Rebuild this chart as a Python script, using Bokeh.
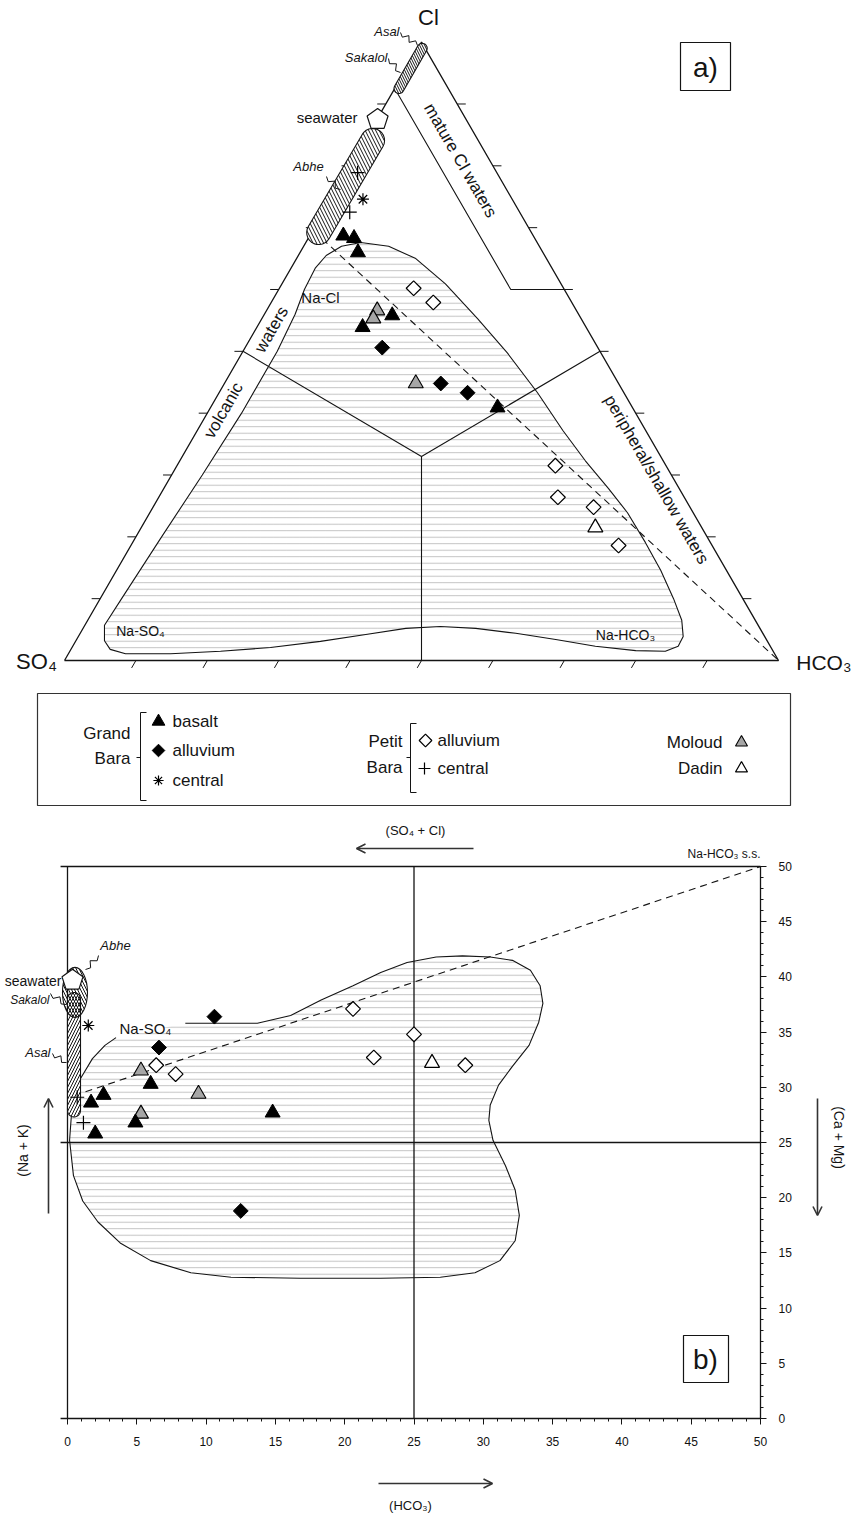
import math
import numpy as np
from bokeh.plotting import figure
from bokeh.models import Range1d, LinearAxis, SingleIntervalTicker, Arrow, OpenHead
from bokeh.layouts import column
from bokeh.embed import file_html
from bokeh.resources import INLINE
from bokeh.core.properties import value

SQ3 = math.sqrt(3) / 2.0

# ---------------- (a) ternary data: Cl % and HCO3 % (SO4 = remainder) ----------------
gb_basalt_cl = [68.7, 68.3, 66.0, 53.9, 55.8, 40.9]
gb_basalt_hco3 = [4.7, 6.4, 8.1, 14.8, 18.0, 40.2]
gb_alluv_cl = [50.6, 44.8, 43.3]
gb_alluv_hco3 = [19.2, 30.3, 34.8]
gb_central_cl = [74.6]
gb_central_hco3 = [4.5]
pb_alluv_cl = [60.2, 57.9, 31.5, 26.4, 24.8, 18.6]
pb_alluv_hco3 = [18.8, 22.7, 53.0, 55.9, 61.7, 68.3]
pb_central_cl = [78.9, 72.5]
pb_central_hco3 = [1.6, 3.7]
moloud_cl = [56.6, 55.3, 44.8]
moloud_hco3 = [15.5, 15.6, 26.8]
dadin_cl = [21.5]
dadin_hco3 = [63.6]
seawater_cl = [87.5]
seawater_hco3 = [0.1]
abhe_cl = [69.2, 84.1]
abhe_hco3 = [1.0, 1.1]
asal_cl = [92.5, 99.0]
asal_hco3 = [0.6, 0.6]
mix_cl = [68.2, 0.0]
mix_hco3 = [2.0, 100.0]
tern_ticks = [10, 20, 30, 40, 50, 60, 70, 80, 90]
mature_so4 = 7.5
mature_cl_limit = 60.0
junction_cl = 33.0

blob_cl = [67.6, 67.0, 65.0, 60.9, 55.3, 49.7, 43.3, 37.2, 32.3, 27.8,
           23.9, 19.1, 14.6, 10.0, 6.5, 3.9, 2.3, 1.5, 1.6, 2.3,
           3.4, 4.4, 5.2, 5.5, 5.2, 4.2, 3.1, 2.1, 1.5, 1.1,
           1.1, 1.8, 3.2, 5.7, 10, 20, 30, 40, 50, 56,
           60, 63.5, 65.5, 67.0]
blob_hco3 = [7.7, 11.9, 16.7, 22.9, 30.2, 37.2, 44.6, 51.2, 56.8, 62.3,
             66.9, 71.8, 76.2, 80.3, 83.2, 84.7, 84.8, 83.4, 79.2, 73.2,
             67.1, 61.0, 55.0, 49.9, 45.2, 40.1, 34.3, 27.8, 21.1, 14.3,
             8.0, 5.5, 4.0, 2.75, 3.0, 3.6, 4.3, 4.8, 4.8, 4.3,
             3.6, 3.4, 3.9, 5.3]

# ---------------- (b) square diagram data: x = HCO3, y = Na+K ----------------
b_gb_basalt_x = [1.7, 2.6, 2.0, 6.0, 4.9, 14.8]
b_gb_basalt_y = [28.6, 29.3, 25.8, 30.3, 26.8, 27.7]
b_gb_alluv_x = [10.6, 6.6, 12.5]
b_gb_alluv_y = [36.4, 33.6, 18.8]
b_gb_central_x = [1.5]
b_gb_central_y = [35.6]
b_pb_alluv_x = [6.4, 7.8, 20.6, 25.0, 22.1, 28.7]
b_pb_alluv_y = [32.0, 31.2, 37.1, 34.8, 32.7, 32.0]
b_pb_central_x = [0.7, 1.15]
b_pb_central_y = [29.1, 26.8]
b_moloud_x = [5.3, 9.45, 5.3]
b_moloud_y = [31.5, 29.4, 27.6]
b_dadin_x = [26.3]
b_dadin_y = [32.2]
b_seawater_x = [0.36]
b_seawater_y = [39.7]
b_asal_x = [0.47, 0.47]
b_asal_y = [27.9, 38.0]
b_abhe_x = [0.54]
b_abhe_y = [38.6]
b_mix_x = [1.3, 50.0]
b_mix_y = [29.6, 50.0]
b_blob_x = [8.5, 13.7, 16.1, 18.3, 20.6, 22.6, 24.5, 26.6, 28.5, 30.5,
            32.1, 33.4, 34.1, 34.3, 34.0, 33.3, 32.1, 31.1, 30.5, 30.4,
            30.7, 31.6, 32.3, 32.6, 32.3, 31.2, 29.4, 26.9, 22.6, 16.8,
            11.8, 8.9, 6.0, 3.8, 2.2, 1.1, 0.43, 0.15, 0.36, 0.94,
            1.8, 2.7, 3.5]
b_blob_y = [35.8, 35.8, 36.5, 37.9, 39.2, 40.4, 41.3, 41.8, 41.9, 41.8,
            41.5, 40.6, 39.2, 37.6, 35.9, 33.8, 31.9, 30.2, 28.4, 27.0,
            25.2, 22.9, 20.7, 18.4, 16.1, 14.3, 13.2, 12.8, 12.7, 12.7,
            12.8, 13.2, 14.3, 15.9, 17.8, 19.7, 22.0, 25.2, 28.8, 30.8,
            32.6, 33.8, 34.5]

# ---------------- layout constants (page pixels; page origin = figure origin) ----------------
W = 852
H1 = 815
H2 = 711
TS = 7.14           # px per ternary unit (side = 100)
TX0, TY0 = 64, 660  # page px of the SO4 corner
BSX, BSY = 13.86, 11.04
BX0, BY0 = 67, 1418
BTOP = H1

FONT = "Liberation Sans"
INK = "#141414"


def tern_xy(cl, hco3):
    cl = np.asarray(cl, dtype=float)
    h = np.asarray(hco3, dtype=float)
    return [float(v) for v in (h + cl / 2.0)], [float(v) for v in (cl * SQ3)]


def T(px, py):
    return (px - TX0) / TS, (TY0 - py) / TS


def B(px, py):
    return (px - BX0) / BSX, (BY0 - py) / BSY


def txt(fig, conv, px, py, s, size, align="center", font=FONT, style="normal",
        angle=0.0, color=INK):
    x, y = conv(px, py)
    fig.text([x], [y], text=[s], text_font=value(font), text_font_size=f"{size}px",
             text_font_style=style, text_align=align, text_baseline="middle",
             angle=angle, text_color=color)


def zigzag(fig, conv, x0, y0, x1, y1, n=5, amp=2.6):
    dx, dy = x1 - x0, y1 - y0
    ln = math.hypot(dx, dy)
    nx, ny = -dy / ln, dx / ln
    xs, ys = [], []
    for i in range(n + 1):
        t = i / n
        off = 0 if i in (0, n) else (amp if i % 2 else -amp)
        px, py = x0 + dx * t + nx * off, y0 + dy * t + ny * off
        cx, cy = conv(px, py)
        xs.append(cx)
        ys.append(cy)
    fig.line(xs, ys, line_color=INK, line_width=1)


def capsule(x0, y0, x1, y1, r, sx, sy, n=14):
    X0, Y0, X1, Y1 = x0 * sx, y0 * sy, x1 * sx, y1 * sy
    ang = math.atan2(Y1 - Y0, X1 - X0)
    pts = []
    for t in np.linspace(-math.pi / 2, math.pi / 2, n):
        pts.append((X1 + r * math.cos(ang + t), Y1 + r * math.sin(ang + t)))
    for t in np.linspace(math.pi / 2, 3 * math.pi / 2, n):
        pts.append((X0 + r * math.cos(ang + t), Y0 + r * math.sin(ang + t)))
    return [p[0] / sx for p in pts], [p[1] / sy for p in pts]


def pentagon(x, y, r, sx, sy):
    xs, ys = [], []
    for k in range(5):
        a = math.pi / 2 + k * 2 * math.pi / 5
        xs.append(x + r * math.cos(a) / sx)
        ys.append(y + r * math.sin(a) / sy)
    return xs, ys


def markers(fig, x, y, kind, size_scale=1.0):
    s = size_scale
    if kind == "basalt":
        fig.scatter(x, y, marker="triangle", size=15 * s, fill_color="black", line_color="black")
    elif kind == "gb_alluv":
        fig.scatter(x, y, marker="square", angle=math.pi / 4, size=10.5 * s,
                    fill_color="black", line_color="black")
    elif kind == "gb_central":
        fig.scatter(x, y, marker="asterisk", size=12 * s, line_color="black", line_width=1.2)
    elif kind == "pb_alluv":
        fig.scatter(x, y, marker="square", angle=math.pi / 4, size=10.5 * s,
                    fill_color="white", line_color="black", line_width=1.2)
    elif kind == "pb_central":
        fig.scatter(x, y, marker="cross", size=14 * s, line_color="black", line_width=1.2)
    elif kind == "moloud":
        fig.scatter(x, y, marker="triangle", size=15 * s, fill_color="#a6a6a6",
                    line_color="black", line_width=1.1)
    elif kind == "dadin":
        fig.scatter(x, y, marker="triangle", size=15 * s, fill_color="white",
                    line_color="black", line_width=1.2)


DOTS = dict(fill_alpha=0, hatch_pattern="horizontal_line", hatch_scale=6.5,
            hatch_color="#b4b4b4", hatch_weight=0.8, line_color=None)

# =============================== TOP: ternary ===============================
top = figure(width=W, height=H1,
             x_range=Range1d((0 - TX0) / TS, (W - TX0) / TS),
             y_range=Range1d((TY0 - H1) / TS, TY0 / TS),
             output_backend="svg", toolbar_location=None,
             x_axis_type=None, y_axis_type=None, min_border=0)
top.outline_line_color = None
top.background_fill_color = "white"

# dotted field
bx, by = tern_xy(blob_cl, blob_hco3)
top.patch(bx, by, **DOTS)
top.patch(bx, by, fill_alpha=0, line_color=INK, line_width=1.1)

# triangle outline
cx, cy = tern_xy([0, 0, 100, 0], [0, 100, 0, 0])
top.line(cx, cy, line_color=INK, line_width=1.3)

# ticks
L = 1.2
txs, tys = [], []
for k in tern_ticks:
    bxx, byy = tern_xy([0], [k])
    txs.append([bxx[0], bxx[0] - L * 0.5]); tys.append([byy[0], byy[0] - L * SQ3])
    lx, ly = tern_xy([k], [0])
    txs.append([lx[0], lx[0] - L]); tys.append([ly[0], ly[0]])
    rx, ry = tern_xy([k], [100 - k])
    txs.append([rx[0], rx[0] + L]); tys.append([ry[0], ry[0]])
top.multi_line(txs, tys, line_color=INK, line_width=1)

# field boundaries
jh = (100 - junction_cl) / 2
vx, vy = tern_xy([50, junction_cl, 50], [0, jh, 50])
top.line(vx, vy, line_color=INK, line_width=1.1)
sx_, sy_ = tern_xy([junction_cl, 0], [jh, 50])
top.line(sx_, sy_, line_color=INK, line_width=1.1)
mx, my = tern_xy([100 - mature_so4, mature_cl_limit, mature_cl_limit],
                 [0, 100 - mature_cl_limit - mature_so4, 100 - mature_cl_limit])
top.line(mx, my, line_color=INK, line_width=1.1)

# mixing line
dx_, dy_ = tern_xy(mix_cl, mix_hco3)
top.line(dx_, dy_, line_color=INK, line_width=1.1, line_dash="7 5")

# hatched lake fields
ax, ay = tern_xy(abhe_cl, abhe_hco3)
cxs, cys = capsule(ax[0], ay[0], ax[1], ay[1], 12, TS, TS)
top.patch(cxs, cys, fill_color="white", hatch_pattern="left_diagonal_line", hatch_scale=7,
          hatch_color=INK, hatch_weight=1, line_color=INK, line_width=1.1)
sx2, sy2 = tern_xy(asal_cl, asal_hco3)
cxs, cys = capsule(sx2[0], sy2[0], sx2[1], sy2[1], 5, TS, TS)
top.patch(cxs, cys, fill_color="white", hatch_pattern="left_diagonal_line", hatch_scale=5,
          hatch_color=INK, hatch_weight=1, line_color=INK, line_width=1.1)
swx, swy = tern_xy(seawater_cl, seawater_hco3)
px_, py_ = pentagon(swx[0], swy[0], 11, TS, TS)
top.patch(px_, py_, fill_color="white", line_color=INK, line_width=1.2)

# samples
for cl, h, kind in [(pb_alluv_cl, pb_alluv_hco3, "pb_alluv"), (dadin_cl, dadin_hco3, "dadin"),
                    (moloud_cl, moloud_hco3, "moloud"), (gb_alluv_cl, gb_alluv_hco3, "gb_alluv"),
                    (gb_basalt_cl, gb_basalt_hco3, "basalt"),
                    (gb_central_cl, gb_central_hco3, "gb_central"),
                    (pb_central_cl, pb_central_hco3, "pb_central")]:
    xx, yy = tern_xy(cl, h)
    markers(top, xx, yy, kind)

# labels
txt(top, T, 428, 17, "Cl", 22)
txt(top, T, 36, 661, "SO₄", 22)
txt(top, T, 851, 662, "HCO₃", 21, align="right")
x0_, y0_ = T(680, 42); x1_, y1_ = T(730, 90)
top.quad(left=[x0_], right=[x1_], top=[y0_], bottom=[y1_], fill_color="white",
         line_color=INK, line_width=1.2)
txt(top, T, 705, 67, "a)", 28)
txt(top, T, 460, 160, "mature Cl waters", 17, angle=-math.pi / 3)
txt(top, T, 656, 479, "peripheral/shallow waters", 17, angle=-math.pi / 3)
txt(top, T, 223, 410, "volcanic", 17, angle=math.pi / 3)
txt(top, T, 271, 329, "waters", 17, angle=math.pi / 3)
txt(top, T, 320, 297, "Na-Cl", 15)
txt(top, T, 140, 630, "Na-SO₄", 14)
txt(top, T, 625, 634, "Na-HCO₃", 14)
txt(top, T, 357, 117, "seawater", 15, align="right")
txt(top, T, 399, 31, "Asal", 13, align="right", style="italic")
txt(top, T, 387, 57, "Sakalol", 13, align="right", style="italic")
txt(top, T, 308, 166, "Abhe", 13, style="italic")
zigzag(top, T, 400, 32, 417, 45)
zigzag(top, T, 388, 58, 400, 72, n=4)
zigzag(top, T, 326, 176, 340, 189, n=4)

# legend
lx0, ly0 = T(37, 693); lx1, ly1 = T(790, 805)
top.quad(left=[lx0], right=[lx1], top=[ly0], bottom=[ly1], fill_alpha=0,
         line_color="#333333", line_width=1.2)
txt(top, T, 130, 733, "Grand", 17, align="right")
txt(top, T, 130, 758, "Bara", 17, align="right")
bxs = [[140, 146], [140, 140], [140, 146], [136, 140]]
bys = [[712, 712], [712, 800], [800, 800], [757, 757]]
pxs = [[410, 416], [410, 410], [410, 416], [406, 410]]
pys = [[723, 723], [723, 792], [792, 792], [757, 757]]
for xsl, ysl in [(bxs, bys), (pxs, pys)]:
    mlx, mly = [], []
    for a_, b_ in zip(xsl, ysl):
        pa = T(a_[0], b_[0]); pb = T(a_[1], b_[1])
        mlx.append([pa[0], pb[0]]); mly.append([pa[1], pb[1]])
    top.multi_line(mlx, mly, line_color=INK, line_width=1)
for (mpx, mpy, kind, label) in [(158, 721, "basalt", "basalt"), (158, 750, "gb_alluv", "alluvium"),
                                (158, 780, "gb_central", "central")]:
    mx_, my_ = T(mpx, mpy)
    markers(top, [mx_], [my_], kind, 0.85)
    txt(top, T, 172, mpy, label, 17, align="left")
txt(top, T, 402, 741, "Petit", 17, align="right")
txt(top, T, 402, 767, "Bara", 17, align="right")
for (mpx, mpy, kind, label) in [(425, 740, "pb_alluv", "alluvium"), (424, 768, "pb_central", "central")]:
    mx_, my_ = T(mpx, mpy)
    markers(top, [mx_], [my_], kind, 0.85)
    txt(top, T, 437, mpy, label, 17, align="left")
for (mpy, kind, label) in [(742, "moloud", "Moloud"), (768, "dadin", "Dadin")]:
    txt(top, T, 722, mpy, label, 17, align="right")
    mx_, my_ = T(741, mpy)
    markers(top, [mx_], [my_], kind, 0.8)

# =============================== BOTTOM: square diagram ===============================
bot = figure(width=W, height=H2,
             x_range=Range1d((0 - BX0) / BSX, (W - BX0) / BSX),
             y_range=Range1d((BY0 - (BTOP + H2)) / BSY, (BY0 - BTOP) / BSY),
             output_backend="svg", toolbar_location=None,
             x_axis_type=None, y_axis_type=None, min_border=0)
bot.outline_line_color = None

xax = LinearAxis(ticker=SingleIntervalTicker(interval=5, num_minor_ticks=5),
                 fixed_location=0, bounds=(0, 50))
yax = LinearAxis(ticker=SingleIntervalTicker(interval=5, num_minor_ticks=5),
                 fixed_location=50, bounds=(0, 50))
for ax_ in (xax, yax):
    ax_.axis_line_color = INK
    ax_.axis_line_width = 1.3
    ax_.major_tick_in = 0
    ax_.major_tick_out = 6
    ax_.minor_tick_in = 0
    ax_.minor_tick_out = 3
    ax_.major_tick_line_color = INK
    ax_.minor_tick_line_color = INK
    ax_.major_label_text_font = FONT
    ax_.major_label_text_font_size = "12px"
    ax_.major_label_text_color = "#111111"
xax.major_label_standoff = 12
yax.major_label_standoff = 12
bot.add_layout(xax, "below")
bot.add_layout(yax, "right")

# dotted field
bot.patch(b_blob_x, b_blob_y, **DOTS)
bot.line(b_blob_x, b_blob_y, line_color=INK, line_width=1.1)

# frame and 25-lines
fr_x = [[-0.5, 50], [0, 0], [25, 25], [-0.5, 50], [-0.5, 0]]
fr_y = [[50, 50], [0, 50], [0, 50], [25, 25], [0, 0]]
bot.multi_line(fr_x, fr_y, line_color=INK, line_width=1.3)

bot.line(b_mix_x, b_mix_y, line_color=INK, line_width=1.1, line_dash="7 5")

# lakes
cxs, cys = capsule(b_asal_x[0], b_asal_y[0], b_asal_x[1], b_asal_y[1], 6.5, BSX, BSY)
bot.patch(cxs, cys, fill_color="white", hatch_pattern="right_diagonal_line", hatch_scale=6,
          hatch_color=INK, hatch_weight=1, line_color=INK, line_width=1.1)
bot.ellipse(b_abhe_x, b_abhe_y, width=25 / BSX, height=50 / BSY, fill_alpha=0,
            hatch_pattern="left_diagonal_line", hatch_scale=6, hatch_color=INK,
            hatch_weight=1, line_color=INK, line_width=1.1)
px_, py_ = pentagon(b_seawater_x[0], b_seawater_y[0], 11, BSX, BSY)
bot.patch(px_, py_, fill_color="white", line_color=INK, line_width=1.2)

for xx, yy, kind in [(b_pb_alluv_x, b_pb_alluv_y, "pb_alluv"), (b_dadin_x, b_dadin_y, "dadin"),
                     (b_moloud_x, b_moloud_y, "moloud"), (b_gb_alluv_x, b_gb_alluv_y, "gb_alluv"),
                     (b_gb_basalt_x, b_gb_basalt_y, "basalt"),
                     (b_gb_central_x, b_gb_central_y, "gb_central"),
                     (b_pb_central_x, b_pb_central_y, "pb_central")]:
    markers(bot, xx, yy, kind)

# labels
txt(bot, B, 415, 830, "(SO₄ + Cl)", 13)
txt(bot, B, 760, 853, "Na-HCO₃ s.s.", 12, align="right")
txt(bot, B, 115, 945, "Abhe", 13, style="italic")
txt(bot, B, 61, 980, "seawater", 14, align="right")
txt(bot, B, 49, 999, "Sakalol", 12, align="right", style="italic")
txt(bot, B, 50, 1052, "Asal", 13, align="right", style="italic")
txt(bot, B, 145, 1028, "Na-SO₄", 15)
zigzag(bot, B, 85, 969, 98, 955, n=4)
zigzag(bot, B, 50, 993, 66, 1004, n=4)
zigzag(bot, B, 52, 1053, 66, 1062, n=4)
bx0_, by0_ = B(683, 1335); bx1_, by1_ = B(728, 1382)
bot.quad(left=[bx0_], right=[bx1_], top=[by0_], bottom=[by1_], fill_color="white",
         line_color=INK, line_width=1.2)
txt(bot, B, 705, 1359, "b)", 28)
txt(bot, B, 410, 1505, "(HCO₃)", 13)
txt(bot, B, 22, 1150, "(Na + K)", 14, angle=math.pi / 2)
txt(bot, B, 838, 1137, "(Ca + Mg)", 14, angle=-math.pi / 2)

for (p0, p1) in [((473, 848), (356, 848)), ((378, 1483), (492, 1483)),
                 ((48, 1213), (48, 1098)), ((817, 1098), (817, 1215))]:
    a0 = B(*p0); a1 = B(*p1)
    bot.add_layout(Arrow(end=OpenHead(size=9, line_width=1.6, line_color="#333333"),
                         x_start=a0[0], y_start=a0[1], x_end=a1[0], y_end=a1[1],
                         line_width=1.6, line_color="#333333"))

layout = column(top, bot)
open("out.html", "w").write(file_html(layout, INLINE))
